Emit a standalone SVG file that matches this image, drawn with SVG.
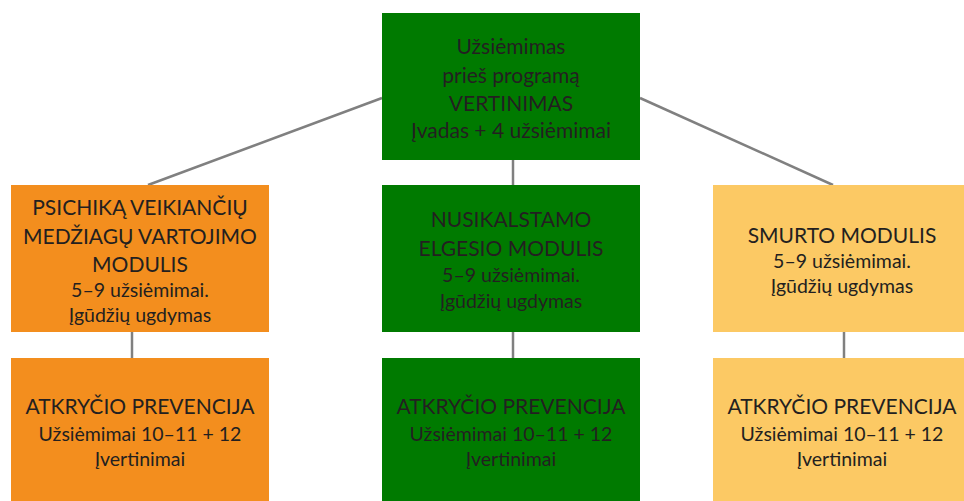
<svg xmlns="http://www.w3.org/2000/svg" width="964" height="501" viewBox="0 0 964 501">
<style>
.t{font-family:Lato,"Open Sans","Liberation Sans",sans-serif;fill:#231f20;text-anchor:middle}
.b{font-size:21px}
.s{font-size:19.5px}
.c{stroke:#808080;stroke-width:2.5;fill:none}
.g{fill:#007a00}
.o{fill:#f38e1e}
.y{fill:#fcc964}
</style>
<rect width="964" height="501" fill="#ffffff"/>
<g id="connectors">
<line class="c" x1="382" y1="98" x2="148" y2="185"/>
<line class="c" x1="640" y1="98" x2="833" y2="185"/>
<line class="c" x1="513" y1="160" x2="513" y2="185"/>
<line class="c" x1="132" y1="332" x2="132" y2="358"/>
<line class="c" x1="513" y1="332" x2="513" y2="358"/>
<line class="c" x1="844" y1="332" x2="844" y2="358"/>
</g>
<g id="top">
<rect class="g" x="382" y="13" width="258" height="147"/>
<text class="t b" x="511" y="54">Užsiėmimas</text>
<text class="t b" x="511" y="83">prieš programą</text>
<text class="t b" x="511" y="111">VERTINIMAS</text>
<text class="t b" x="511" y="138">Įvadas + 4 užsiėmimai</text>
</g>
<g id="psichika">
<rect class="o" x="11" y="185" width="258" height="147"/>
<text class="t b" x="140" y="215">PSICHIKĄ VEIKIANČIŲ</text>
<text class="t b" x="140" y="244">MEDŽIAGŲ VARTOJIMO</text>
<text class="t b" x="140" y="272">MODULIS</text>
<text class="t s" x="140" y="297">5–9 užsiėmimai.</text>
<text class="t s" x="140" y="322">Įgūdžių ugdymas</text>
</g>
<g id="nusikalstamo">
<rect class="g" x="382" y="185" width="258" height="147"/>
<text class="t b" x="511" y="227">NUSIKALSTAMO</text>
<text class="t b" x="511" y="256">ELGESIO MODULIS</text>
<text class="t s" x="511" y="282">5–9 užsiėmimai.</text>
<text class="t s" x="511" y="308">Įgūdžių ugdymas</text>
</g>
<g id="smurto">
<rect class="y" x="713" y="185" width="258" height="147"/>
<text class="t b" x="842" y="243">SMURTO MODULIS</text>
<text class="t s" x="842" y="268">5–9 užsiėmimai.</text>
<text class="t s" x="842" y="293">Įgūdžių ugdymas</text>
</g>
<g id="prevencija1">
<rect class="o" x="11" y="358" width="258" height="143"/>
<text class="t b" x="140" y="414">ATKRYČIO PREVENCIJA</text>
<text class="t s" x="140" y="441">Užsiėmimai 10–11 + 12</text>
<text class="t s" x="140" y="466">Įvertinimai</text>
</g>
<g id="prevencija2">
<rect class="g" x="382" y="358" width="258" height="143"/>
<text class="t b" x="511" y="414">ATKRYČIO PREVENCIJA</text>
<text class="t s" x="511" y="441">Užsiėmimai 10–11 + 12</text>
<text class="t s" x="511" y="466">Įvertinimai</text>
</g>
<g id="prevencija3">
<rect class="y" x="713" y="358" width="258" height="143"/>
<text class="t b" x="842" y="414">ATKRYČIO PREVENCIJA</text>
<text class="t s" x="842" y="441">Užsiėmimai 10–11 + 12</text>
<text class="t s" x="842" y="466">Įvertinimai</text>
</g>
</svg>
